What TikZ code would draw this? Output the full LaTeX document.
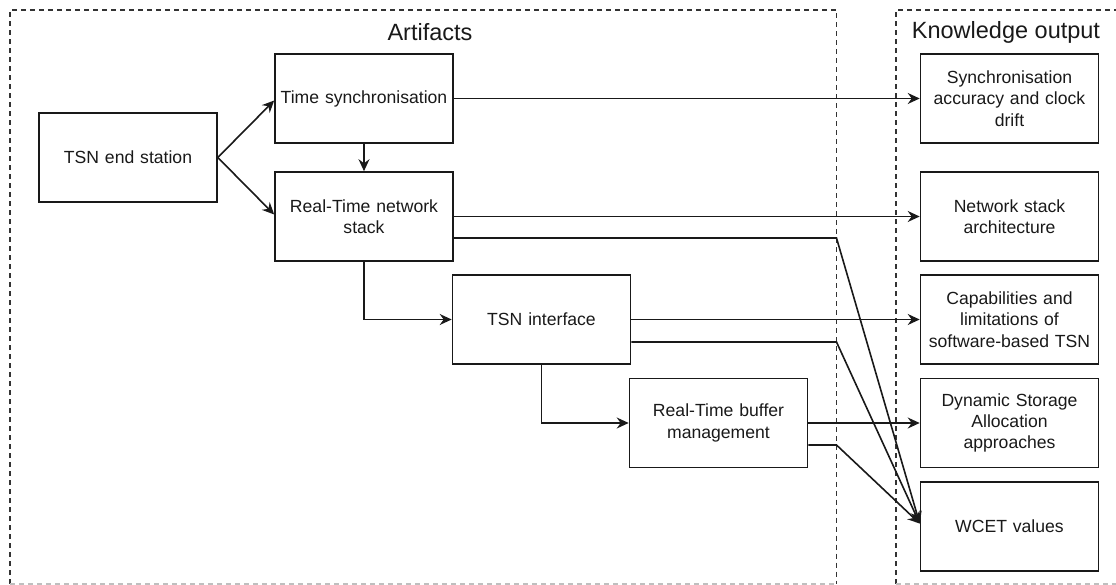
\documentclass[tikz,border=0pt]{standalone}
\usepackage{fontspec}
\setmainfont{Liberation Sans}
\usetikzlibrary{arrows.meta,calc}
\tikzset{
  box/.style={draw=black!90, line width=1.6pt, minimum width=178pt, minimum height=89pt,
    text width=176pt, align=center, inner sep=0pt, text=black!90,
    font=\fontsize{17.6}{21.3}\selectfont},
  group/.style={draw=black!80, line width=1.3pt, dash pattern=on 5pt off 4pt},
  groupfoot/.style={draw=black!25, line width=1.3pt, dash pattern=on 5pt off 4pt},
  grouptitle/.style={inner sep=0pt, text=black!90, font=\fontsize{23.5}{28}\selectfont},
  link/.style={draw=black!90, line width=1.6pt},
  arr/.style={link, -{Stealth[length=12pt,width=11pt,inset=4pt]}}
}
\begin{document}
\begin{tikzpicture}[x=1pt,y=-1pt]
\useasboundingbox (0,0) rectangle (1116,585);

% grouping frames, open at the bottom edge of the page
\coordinate (a1) at (10,584);
\coordinate (a2) at (10,10);
\coordinate (a3) at (836.5,10);
\coordinate (a4) at (836.5,584);
\coordinate (c1) at (896,584);
\coordinate (c2) at (896,10);
\coordinate (c3) at (1120,10);
\coordinate (c4) at (1120,584);
\draw[group] (a1) -- (a2) -- (a3) -- (a4);
\draw[groupfoot] (a1) -- (a4);
\draw[group] (c1) -- (c2) -- (c3);
\draw[groupfoot] (c1) -- (c4);
\node[grouptitle] (tart) at (430,32) {Artifacts};
\node[grouptitle] (tknow) at (1006,32) {Knowledge output};

% artifact boxes
\node[box] (es) at (128,157.5) {TSN end station};
\node[box] (ts) at (364,98.5) {Time synchronisation};
\node[box] (rt) at (364,216.5) {Real-Time network\\stack};
\node[box] (ti) at (541.5,319.5) {TSN interface};
\node[box] (bm) at (718.5,423) {Real-Time buffer\\management};

% knowledge boxes
\node[box] (k1) at (1009.5,98.5) {Synchronisation\\accuracy and clock\\drift};
\node[box] (k2) at (1009.5,216.5) {Network stack\\architecture};
\node[box] (k3) at (1009.5,319.5) {Capabilities and\\limitations of\\software-based TSN};
\node[box] (k4) at (1009.5,423) {Dynamic Storage\\Allocation\\approaches};
\node[box] (k5) at (1009.5,526.5) {WCET values};

% bends on the artifact frame border and the shared target point
\coordinate (b1) at (836.5,238);
\coordinate (b2) at (836.5,342);
\coordinate (b3) at (836.5,445);
\coordinate (wc) at ([yshift=3pt]k5.west);

% artifact structure
\draw[arr] (es.east) -- ([yshift=-2pt]ts.west);
\draw[arr] (es.east) -- ([yshift=2pt]rt.west);
\draw[arr] (ts.south) -- (rt.north);
\draw[arr] (rt.south) |- (ti.west);
\draw[arr] (ti.south) |- (bm.west);

% artifacts to knowledge output
\draw[arr] (ts.east) -- (k1.west);
\draw[arr] (rt.east) -- (k2.west);
\draw[arr] (ti.east) -- (k3.west);
\draw[arr] (bm.east) -- (k4.west);
\draw[arr] ([yshift=-21.5pt]rt.east) -- (b1) -- (wc);
\draw[arr] ([yshift=-22.5pt]ti.east) -- (b2) -- (wc);
\draw[arr] ([yshift=-22pt]bm.east) -- (b3) -- (wc);
\end{tikzpicture}
\end{document}
